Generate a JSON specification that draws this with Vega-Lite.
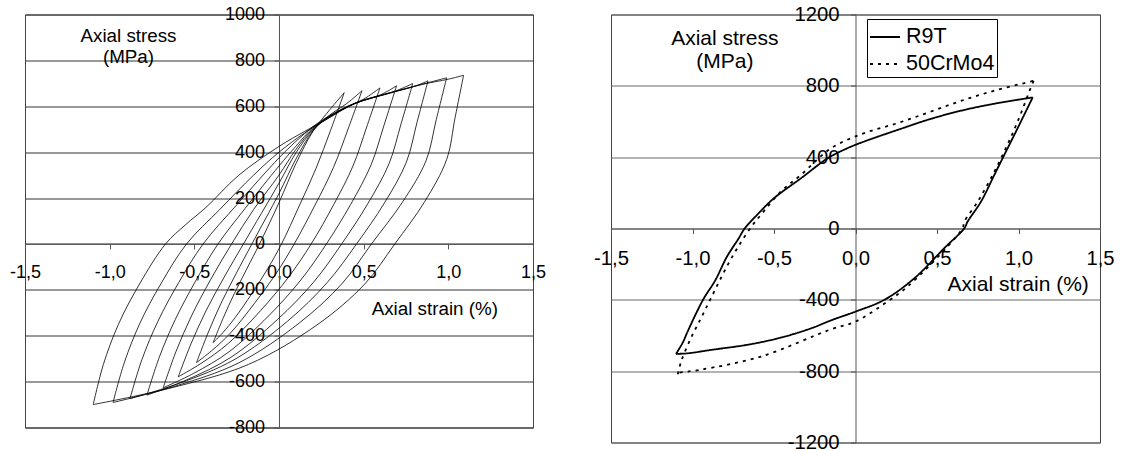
{
  "$schema": "https://vega.github.io/schema/vega-lite/v6.json",
  "background": "white",
  "padding": {"left": 8, "top": 3.5, "right": 0, "bottom": 0},
  "spacing": 78,
  "bounds": "flush",
  "config": {
    "locale": {"number": {"decimal": ",", "thousands": ".", "grouping": [3], "currency": ["", " €"], "minus": "-"}},
    "font": "Liberation Sans",
    "view": {"stroke": "#444", "strokeWidth": 1},
    "axis": {
      "labelFont": "Liberation Sans", "titleFont": "Liberation Sans",
      "labelColor": "#000", "titleColor": "#000", "titleFontWeight": "normal",
      "labelOverlap": false, "labelFlush": false, "labelBound": false,
      "domainColor": "#555", "tickColor": "#555", "gridColor": "#333", "gridOpacity": 1,
      "titleAngle": 0, "titleAlign": "center", "titleBaseline": "alphabetic"
    }
  },
  "hconcat": [
    {
      "width": 508,
      "height": 413,
      "data": {"values": [
        {"c":1,"b":"u","i":0,"x":0.385,"y":659},{"c":1,"b":"u","i":1,"x":0.304,"y":494},{"c":1,"b":"u","i":2,"x":0.219,"y":330},{"c":1,"b":"u","i":3,"x":0.119,"y":165},{"c":1,"b":"u","i":4,"x":0.015,"y":0},{"c":1,"b":"u","i":5,"x":-0.066,"y":-107},{"c":1,"b":"u","i":6,"x":-0.159,"y":-215},{"c":1,"b":"u","i":7,"x":-0.26,"y":-322},{"c":1,"b":"u","i":8,"x":-0.332,"y":-387},{"c":1,"b":"u","i":9,"x":-0.389,"y":-430},
        {"c":1,"b":"l","i":9,"x":-0.389,"y":-430},{"c":1,"b":"l","i":10,"x":-0.329,"y":-322},{"c":1,"b":"l","i":11,"x":-0.263,"y":-215},{"c":1,"b":"l","i":12,"x":-0.189,"y":-107},{"c":1,"b":"l","i":13,"x":-0.115,"y":0},{"c":1,"b":"l","i":14,"x":0,"y":180},{"c":1,"b":"l","i":15,"x":0.1,"y":350},{"c":1,"b":"l","i":16,"x":0.2,"y":490},{"c":1,"b":"l","i":17,"x":0.3,"y":585},{"c":1,"b":"l","i":18,"x":0.385,"y":659},
        {"c":2,"b":"u","i":0,"x":0.49,"y":668},{"c":2,"b":"u","i":1,"x":0.408,"y":501},{"c":2,"b":"u","i":2,"x":0.322,"y":334},{"c":2,"b":"u","i":3,"x":0.211,"y":167},{"c":2,"b":"u","i":4,"x":0.09,"y":0},{"c":2,"b":"u","i":5,"x":-0.017,"y":-129},{"c":2,"b":"u","i":6,"x":-0.144,"y":-258},{"c":2,"b":"u","i":7,"x":-0.286,"y":-388},{"c":2,"b":"u","i":8,"x":-0.397,"y":-465},{"c":2,"b":"u","i":9,"x":-0.487,"y":-517},
        {"c":2,"b":"l","i":9,"x":-0.487,"y":-517},{"c":2,"b":"l","i":10,"x":-0.419,"y":-388},{"c":2,"b":"l","i":11,"x":-0.342,"y":-258},{"c":2,"b":"l","i":12,"x":-0.253,"y":-129},{"c":2,"b":"l","i":13,"x":-0.16,"y":0},{"c":2,"b":"l","i":14,"x":0,"y":220},{"c":2,"b":"l","i":15,"x":0.1,"y":370},{"c":2,"b":"l","i":16,"x":0.2,"y":492},{"c":2,"b":"l","i":17,"x":0.3,"y":562},{"c":2,"b":"l","i":18,"x":0.4,"y":612},{"c":2,"b":"l","i":19,"x":0.49,"y":668},
        {"c":3,"b":"u","i":0,"x":0.596,"y":680},{"c":3,"b":"u","i":1,"x":0.518,"y":510},{"c":3,"b":"u","i":2,"x":0.437,"y":340},{"c":3,"b":"u","i":3,"x":0.322,"y":170},{"c":3,"b":"u","i":4,"x":0.19,"y":0},{"c":3,"b":"u","i":5,"x":0.056,"y":-145},{"c":3,"b":"u","i":6,"x":-0.108,"y":-290},{"c":3,"b":"u","i":7,"x":-0.3,"y":-434},{"c":3,"b":"u","i":8,"x":-0.461,"y":-521},{"c":3,"b":"u","i":9,"x":-0.595,"y":-579},
        {"c":3,"b":"l","i":9,"x":-0.595,"y":-579},{"c":3,"b":"l","i":10,"x":-0.519,"y":-434},{"c":3,"b":"l","i":11,"x":-0.43,"y":-290},{"c":3,"b":"l","i":12,"x":-0.324,"y":-145},{"c":3,"b":"l","i":13,"x":-0.21,"y":0},{"c":3,"b":"l","i":14,"x":0,"y":265},{"c":3,"b":"l","i":15,"x":0.1,"y":397},{"c":3,"b":"l","i":16,"x":0.2,"y":496},{"c":3,"b":"l","i":17,"x":0.3,"y":556},{"c":3,"b":"l","i":18,"x":0.4,"y":596},{"c":3,"b":"l","i":19,"x":0.5,"y":631},{"c":3,"b":"l","i":20,"x":0.596,"y":680},
        {"c":4,"b":"u","i":0,"x":0.694,"y":689},{"c":4,"b":"u","i":1,"x":0.62,"y":517},{"c":4,"b":"u","i":2,"x":0.544,"y":345},{"c":4,"b":"u","i":3,"x":0.423,"y":172},{"c":4,"b":"u","i":4,"x":0.28,"y":0},{"c":4,"b":"u","i":5,"x":0.129,"y":-157},{"c":4,"b":"u","i":6,"x":-0.062,"y":-314},{"c":4,"b":"u","i":7,"x":-0.295,"y":-470},{"c":4,"b":"u","i":8,"x":-0.504,"y":-564},{"c":4,"b":"u","i":9,"x":-0.684,"y":-627},
        {"c":4,"b":"l","i":9,"x":-0.684,"y":-627},{"c":4,"b":"l","i":10,"x":-0.609,"y":-470},{"c":4,"b":"l","i":11,"x":-0.517,"y":-314},{"c":4,"b":"l","i":12,"x":-0.405,"y":-157},{"c":4,"b":"l","i":13,"x":-0.28,"y":0},{"c":4,"b":"l","i":14,"x":-0.15,"y":150},{"c":4,"b":"l","i":15,"x":0,"y":300},{"c":4,"b":"l","i":16,"x":0.1,"y":412},{"c":4,"b":"l","i":17,"x":0.2,"y":501},{"c":4,"b":"l","i":18,"x":0.3,"y":556},{"c":4,"b":"l","i":19,"x":0.45,"y":613},{"c":4,"b":"l","i":20,"x":0.6,"y":650},{"c":4,"b":"l","i":21,"x":0.694,"y":689},
        {"c":5,"b":"u","i":0,"x":0.79,"y":699},{"c":5,"b":"u","i":1,"x":0.721,"y":524},{"c":5,"b":"u","i":2,"x":0.65,"y":350},{"c":5,"b":"u","i":3,"x":0.524,"y":175},{"c":5,"b":"u","i":4,"x":0.37,"y":0},{"c":5,"b":"u","i":5,"x":0.206,"y":-165},{"c":5,"b":"u","i":6,"x":-0.01,"y":-330},{"c":5,"b":"u","i":7,"x":-0.284,"y":-494},{"c":5,"b":"u","i":8,"x":-0.547,"y":-593},{"c":5,"b":"u","i":9,"x":-0.78,"y":-659},
        {"c":5,"b":"l","i":9,"x":-0.78,"y":-659},{"c":5,"b":"l","i":10,"x":-0.707,"y":-494},{"c":5,"b":"l","i":11,"x":-0.613,"y":-330},{"c":5,"b":"l","i":12,"x":-0.495,"y":-165},{"c":5,"b":"l","i":13,"x":-0.36,"y":0},{"c":5,"b":"l","i":14,"x":-0.2,"y":155},{"c":5,"b":"l","i":15,"x":0,"y":340},{"c":5,"b":"l","i":16,"x":0.1,"y":426},{"c":5,"b":"l","i":17,"x":0.2,"y":506},{"c":5,"b":"l","i":18,"x":0.3,"y":557},{"c":5,"b":"l","i":19,"x":0.45,"y":613},{"c":5,"b":"l","i":20,"x":0.6,"y":647},{"c":5,"b":"l","i":21,"x":0.7,"y":670},{"c":5,"b":"l","i":22,"x":0.79,"y":699},
        {"c":6,"b":"u","i":0,"x":0.88,"y":711},{"c":6,"b":"u","i":1,"x":0.816,"y":533},{"c":6,"b":"u","i":2,"x":0.752,"y":356},{"c":6,"b":"u","i":3,"x":0.622,"y":178},{"c":6,"b":"u","i":4,"x":0.458,"y":0},{"c":6,"b":"u","i":5,"x":0.285,"y":-168},{"c":6,"b":"u","i":6,"x":0.05,"y":-337},{"c":6,"b":"u","i":7,"x":-0.266,"y":-505},{"c":6,"b":"u","i":8,"x":-0.587,"y":-607},{"c":6,"b":"u","i":9,"x":-0.88,"y":-674},
        {"c":6,"b":"l","i":9,"x":-0.88,"y":-674},{"c":6,"b":"l","i":10,"x":-0.81,"y":-505},{"c":6,"b":"l","i":11,"x":-0.715,"y":-337},{"c":6,"b":"l","i":12,"x":-0.592,"y":-168},{"c":6,"b":"l","i":13,"x":-0.448,"y":0},{"c":6,"b":"l","i":14,"x":-0.25,"y":170},{"c":6,"b":"l","i":15,"x":0,"y":375},{"c":6,"b":"l","i":16,"x":0.1,"y":447},{"c":6,"b":"l","i":17,"x":0.2,"y":511},{"c":6,"b":"l","i":18,"x":0.3,"y":560},{"c":6,"b":"l","i":19,"x":0.45,"y":614},{"c":6,"b":"l","i":20,"x":0.65,"y":657},{"c":6,"b":"l","i":21,"x":0.8,"y":687},{"c":6,"b":"l","i":22,"x":0.88,"y":711},
        {"c":7,"b":"u","i":0,"x":0.99,"y":724},{"c":7,"b":"u","i":1,"x":0.929,"y":543},{"c":7,"b":"u","i":2,"x":0.868,"y":362},{"c":7,"b":"u","i":3,"x":0.728,"y":181},{"c":7,"b":"u","i":4,"x":0.546,"y":0},{"c":7,"b":"u","i":5,"x":0.372,"y":-173},{"c":7,"b":"u","i":6,"x":0.119,"y":-345},{"c":7,"b":"u","i":7,"x":-0.237,"y":-518},{"c":7,"b":"u","i":8,"x":-0.623,"y":-622},{"c":7,"b":"u","i":9,"x":-0.98,"y":-691},
        {"c":7,"b":"l","i":9,"x":-0.98,"y":-691},{"c":7,"b":"l","i":10,"x":-0.914,"y":-518},{"c":7,"b":"l","i":11,"x":-0.821,"y":-345},{"c":7,"b":"l","i":12,"x":-0.697,"y":-173},{"c":7,"b":"l","i":13,"x":-0.546,"y":0},{"c":7,"b":"l","i":14,"x":-0.35,"y":150},{"c":7,"b":"l","i":15,"x":-0.15,"y":300},{"c":7,"b":"l","i":16,"x":0,"y":400},{"c":7,"b":"l","i":17,"x":0.15,"y":483},{"c":7,"b":"l","i":18,"x":0.27,"y":538},{"c":7,"b":"l","i":19,"x":0.45,"y":614},{"c":7,"b":"l","i":20,"x":0.65,"y":658},{"c":7,"b":"l","i":21,"x":0.85,"y":697},{"c":7,"b":"l","i":22,"x":0.99,"y":724},
        {"c":8,"b":"u","i":0,"x":1.09,"y":735},{"c":8,"b":"u","i":1,"x":1.04,"y":551},{"c":8,"b":"u","i":2,"x":0.99,"y":368},{"c":8,"b":"u","i":3,"x":0.86,"y":184},{"c":8,"b":"u","i":4,"x":0.684,"y":0},{"c":8,"b":"u","i":5,"x":0.506,"y":-175},{"c":8,"b":"u","i":6,"x":0.23,"y":-350},{"c":8,"b":"u","i":7,"x":-0.18,"y":-525},{"c":8,"b":"u","i":8,"x":-0.652,"y":-630},{"c":8,"b":"u","i":9,"x":-1.097,"y":-700},
        {"c":8,"b":"l","i":9,"x":-1.097,"y":-700},{"c":8,"b":"l","i":10,"x":-1.037,"y":-525},{"c":8,"b":"l","i":11,"x":-0.948,"y":-350},{"c":8,"b":"l","i":12,"x":-0.824,"y":-175},{"c":8,"b":"l","i":13,"x":-0.67,"y":0},{"c":8,"b":"l","i":14,"x":-0.55,"y":85},{"c":8,"b":"l","i":15,"x":-0.43,"y":160},{"c":8,"b":"l","i":16,"x":-0.24,"y":298},{"c":8,"b":"l","i":17,"x":0,"y":425},{"c":8,"b":"l","i":18,"x":0.15,"y":490},{"c":8,"b":"l","i":19,"x":0.27,"y":539},{"c":8,"b":"l","i":20,"x":0.45,"y":612},{"c":8,"b":"l","i":21,"x":0.65,"y":656},{"c":8,"b":"l","i":22,"x":0.85,"y":696},{"c":8,"b":"l","i":23,"x":1.0,"y":718},{"c":8,"b":"l","i":24,"x":1.09,"y":735}
      ]},
      "mark": {"type": "line", "color": "#000", "strokeWidth": 0.8, "interpolate": "catmull-rom"},
      "encoding": {
        "x": {"field": "x", "type": "quantitative",
          "scale": {"domain": [-1.5, 1.5], "nice": false, "zero": false},
          "axis": {"values": [-1.5, -1, -0.5, 0, 0.5, 1, 1.5], "format": ".1f", "grid": false,
            "offset": -183.6, "tickSize": 5, "labelPadding": 15, "labelFontSize": 18,
            "title": "Axial strain (%)", "titleFontSize": 18.8, "titleX": 409.3, "titleY": 70.7}},
        "y": {"field": "y", "type": "quantitative",
          "scale": {"domain": [-800, 1000], "nice": false, "zero": false},
          "axis": {"values": [-800, -600, -400, -200, 0, 200, 400, 600, 800, 1000], "format": "d", "grid": true,
            "offset": -254, "tickSize": 5, "labelPadding": 9.5, "labelFontSize": 18,
            "title": ["Axial stress", "(MPa)"], "titleFontSize": 18.8, "titleX": -151, "titleY": 27, "titleLineHeight": 21}},
        "detail": [{"field": "c", "type": "nominal"}, {"field": "b", "type": "nominal"}],
        "order": {"field": "i", "type": "quantitative"}
      }
    },
    {
      "width": 489,
      "height": 428,
      "data": {"values": [
        {"s":"R9T","b":"l","i":0,"x":-1.101,"y":-703},{"s":"R9T","b":"l","i":1,"x":-1.06,"y":-640},{"s":"R9T","b":"l","i":2,"x":-1.03,"y":-578},{"s":"R9T","b":"l","i":3,"x":-0.98,"y":-480},{"s":"R9T","b":"l","i":4,"x":-0.93,"y":-391},{"s":"R9T","b":"l","i":5,"x":-0.86,"y":-290},{"s":"R9T","b":"l","i":6,"x":-0.79,"y":-160},{"s":"R9T","b":"l","i":7,"x":-0.72,"y":-60},{"s":"R9T","b":"l","i":8,"x":-0.68,"y":0},{"s":"R9T","b":"l","i":9,"x":-0.6,"y":80},{"s":"R9T","b":"l","i":10,"x":-0.5,"y":170},{"s":"R9T","b":"l","i":11,"x":-0.334,"y":282},{"s":"R9T","b":"l","i":12,"x":-0.17,"y":394},{"s":"R9T","b":"l","i":13,"x":-0.05,"y":450},{"s":"R9T","b":"l","i":14,"x":0.054,"y":488},{"s":"R9T","b":"l","i":15,"x":0.259,"y":553},{"s":"R9T","b":"l","i":16,"x":0.463,"y":615},{"s":"R9T","b":"l","i":17,"x":0.668,"y":665},{"s":"R9T","b":"l","i":18,"x":0.872,"y":703},{"s":"R9T","b":"l","i":19,"x":1.087,"y":735},
        {"s":"R9T","b":"u","i":19,"x":1.087,"y":735},{"s":"R9T","b":"u","i":20,"x":0.995,"y":563},{"s":"R9T","b":"u","i":21,"x":0.913,"y":413},{"s":"R9T","b":"u","i":22,"x":0.852,"y":301},{"s":"R9T","b":"u","i":23,"x":0.77,"y":151},{"s":"R9T","b":"u","i":24,"x":0.688,"y":39},{"s":"R9T","b":"u","i":25,"x":0.668,"y":2},{"s":"R9T","b":"u","i":26,"x":0.545,"y":-110},{"s":"R9T","b":"u","i":27,"x":0.361,"y":-279},{"s":"R9T","b":"u","i":28,"x":0.177,"y":-400},{"s":"R9T","b":"u","i":29,"x":0,"y":-466},{"s":"R9T","b":"u","i":30,"x":-0.15,"y":-515},{"s":"R9T","b":"u","i":31,"x":-0.273,"y":-560},{"s":"R9T","b":"u","i":32,"x":-0.45,"y":-610},{"s":"R9T","b":"u","i":33,"x":-0.65,"y":-650},{"s":"R9T","b":"u","i":34,"x":-0.887,"y":-681},{"s":"R9T","b":"u","i":35,"x":-1.03,"y":-700},{"s":"R9T","b":"u","i":36,"x":-1.101,"y":-703},
        {"s":"50CrMo4","b":"l","i":0,"x":-1.09,"y":-817},{"s":"50CrMo4","b":"l","i":1,"x":-1.07,"y":-746},{"s":"50CrMo4","b":"l","i":2,"x":-1.01,"y":-615},{"s":"50CrMo4","b":"l","i":3,"x":-0.948,"y":-503},{"s":"50CrMo4","b":"l","i":4,"x":-0.887,"y":-391},{"s":"50CrMo4","b":"l","i":5,"x":-0.784,"y":-204},{"s":"50CrMo4","b":"l","i":6,"x":-0.7,"y":-73},{"s":"50CrMo4","b":"l","i":7,"x":-0.63,"y":21},{"s":"50CrMo4","b":"l","i":8,"x":-0.58,"y":77},{"s":"50CrMo4","b":"l","i":9,"x":-0.457,"y":208},{"s":"50CrMo4","b":"l","i":10,"x":-0.334,"y":301},{"s":"50CrMo4","b":"l","i":11,"x":-0.15,"y":450},{"s":"50CrMo4","b":"l","i":12,"x":0.054,"y":535},{"s":"50CrMo4","b":"l","i":13,"x":0.259,"y":591},{"s":"50CrMo4","b":"l","i":14,"x":0.463,"y":656},{"s":"50CrMo4","b":"l","i":15,"x":0.668,"y":722},{"s":"50CrMo4","b":"l","i":16,"x":0.872,"y":778},{"s":"50CrMo4","b":"l","i":17,"x":1.093,"y":828},
        {"s":"50CrMo4","b":"u","i":17,"x":1.093,"y":828},{"s":"50CrMo4","b":"u","i":18,"x":1.066,"y":768},{"s":"50CrMo4","b":"u","i":19,"x":0.995,"y":600},{"s":"50CrMo4","b":"u","i":20,"x":0.913,"y":432},{"s":"50CrMo4","b":"u","i":21,"x":0.831,"y":282},{"s":"50CrMo4","b":"u","i":22,"x":0.75,"y":151},{"s":"50CrMo4","b":"u","i":23,"x":0.668,"y":39},{"s":"50CrMo4","b":"u","i":24,"x":0.657,"y":2},{"s":"50CrMo4","b":"u","i":25,"x":0.565,"y":-101},{"s":"50CrMo4","b":"u","i":26,"x":0.32,"y":-325},{"s":"50CrMo4","b":"u","i":27,"x":0.197,"y":-409},{"s":"50CrMo4","b":"u","i":28,"x":0,"y":-522},{"s":"50CrMo4","b":"u","i":29,"x":-0.15,"y":-565},{"s":"50CrMo4","b":"u","i":30,"x":-0.58,"y":-718},{"s":"50CrMo4","b":"u","i":31,"x":-0.95,"y":-792},{"s":"50CrMo4","b":"u","i":32,"x":-1.09,"y":-811},{"s":"50CrMo4","b":"u","i":33,"x":-1.1,"y":-817}
      ]},
      "mark": {"type": "line", "color": "#000", "strokeWidth": 1.8, "interpolate": "catmull-rom"},
      "encoding": {
        "x": {"field": "x", "type": "quantitative",
          "scale": {"domain": [-1.5, 1.5], "nice": false, "zero": false},
          "axis": {"values": [-1.5, -1, -0.5, 0, 0.5, 1, 1.5], "format": ".1f", "grid": false,
            "offset": -214, "tickSize": 5, "labelPadding": 15, "labelFontSize": 20.3,
            "title": "Axial strain (%)", "titleFontSize": 21, "titleX": 406.7, "titleY": 62}},
        "y": {"field": "y", "type": "quantitative",
          "scale": {"domain": [-1200, 1200], "nice": false, "zero": false},
          "axis": {"values": [-1200, -800, -400, 0, 400, 800, 1200], "format": "d", "grid": true, "gridColor": "#666",
            "offset": -244.5, "tickSize": 5, "labelPadding": 11.5, "labelFontSize": 20.3,
            "title": ["Axial stress", "(MPa)"], "titleFontSize": 21, "titleX": -131.2, "titleY": 29.5, "titleLineHeight": 23}},
        "strokeDash": {"field": "s", "type": "nominal",
          "scale": {"domain": ["R9T", "50CrMo4"], "range": [[1, 0], [3, 5]]},
          "legend": {"orient": "none", "legendX": 842, "legendY": 4.5, "title": null,
            "symbolType": "stroke", "symbolSize": 900, "symbolStrokeWidth": 2, "symbolStrokeColor": "#000",
            "labelFontSize": 21.5, "labelFont": "Liberation Sans", "labelColor": "#000", "labelOffset": 5,
            "rowPadding": 0, "padding": 2, "strokeColor": "#000", "fillColor": "#fff", "labelLimit": 300}},
        "detail": {"field": "b", "type": "nominal"},
        "order": {"field": "i", "type": "quantitative"}
      }
    }
  ]
}
